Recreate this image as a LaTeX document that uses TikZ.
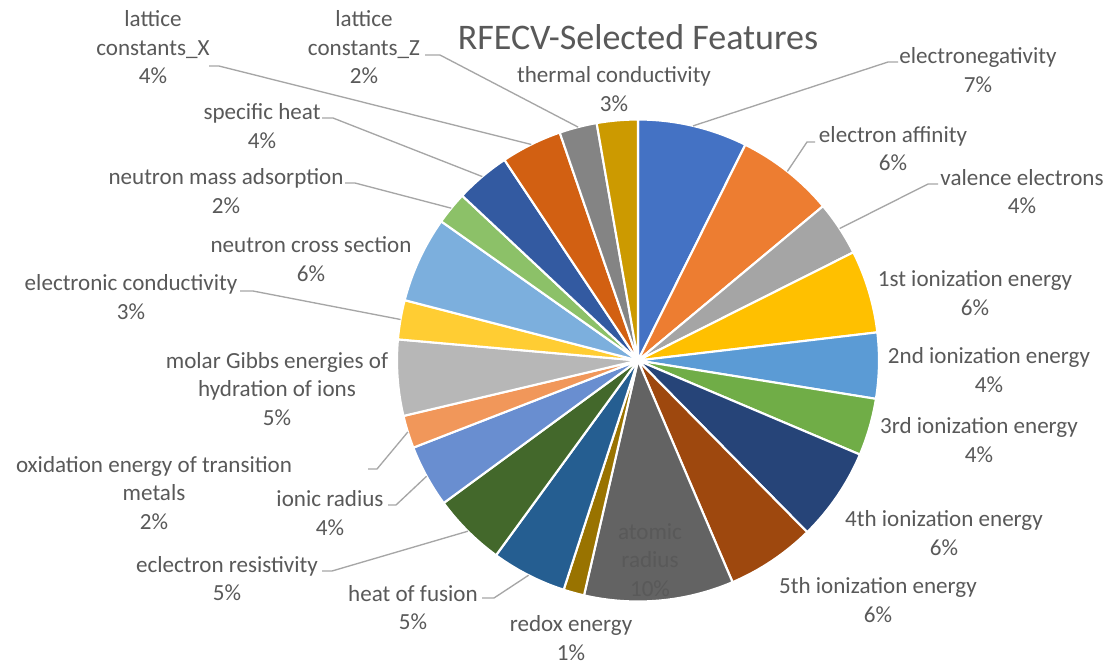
\documentclass[tikz,border=0pt]{standalone}
\usepackage{fontspec}
\setmainfont{Carlito}
\definecolor{txt}{HTML}{595959}
\definecolor{leadgray}{HTML}{A6A6A6}
\definecolor{p1}{HTML}{4472C4}
\definecolor{p2}{HTML}{ED7D31}
\definecolor{p3}{HTML}{A5A5A5}
\definecolor{p4}{HTML}{FFC000}
\definecolor{p5}{HTML}{5B9BD5}
\definecolor{p6}{HTML}{70AD47}
\definecolor{p7}{HTML}{264478}
\definecolor{p8}{HTML}{9E480E}
\definecolor{p9}{HTML}{636363}
\definecolor{p10}{HTML}{997300}
\definecolor{p11}{HTML}{255E91}
\definecolor{p12}{HTML}{43682B}
\definecolor{p13}{HTML}{698ED0}
\definecolor{p14}{HTML}{F1975A}
\definecolor{p15}{HTML}{B7B7B7}
\definecolor{p16}{HTML}{FFCD33}
\definecolor{p17}{HTML}{7CAFDD}
\definecolor{p18}{HTML}{8CC168}
\definecolor{p19}{HTML}{335AA1}
\definecolor{p20}{HTML}{D26012}
\definecolor{p21}{HTML}{848484}
\definecolor{p22}{HTML}{CC9A00}
\begin{document}
\begin{tikzpicture}[x=0.75pt,y=-0.75pt,
  lab/.style={text=txt, font=\fontsize{17.3}{21.4}\selectfont, align=center, inner sep=0pt},
  ttl/.style={text=txt, font=\fontsize{27}{32}\selectfont, inner sep=0pt},
  lead/.style={draw=leadgray, line width=1pt, line join=round},
  wedge/.style={draw=white, line width=1.6pt, line join=round}]
\useasboundingbox (0,0) rectangle (1108,661);
\fill[white] (0,0) rectangle (1108,661);

% pie slices, clockwise from twelve o'clock
\begin{scope}[shift={(638,360.5)}, yscale=-1]
  \foreach \a/\b/\c in {90/63.55/p1, 63.55/39.83/p2, 39.83/26.67/p3, 26.67/6.71/p4,
      6.71/-9.16/p5, -9.16/-22.97/p6, -22.97/-45.42/p7, -45.42/-66.9/p8,
      -66.9/-102.95/p9, -102.95/-107.97/p10, -107.97/-126.09/p11, -126.09/-143.74/p12,
      -143.74/-158.8/p13, -158.8/-166.7/p14, -166.7/-185.03/p15, -185.03/-194.5/p16,
      -194.5/-215.26/p17, -215.26/-223.15/p18, -223.15/-236.35/p19, -236.35/-251.05/p20,
      -251.05/-260.12/p21, -260.12/-270/p22} {
    \path[wedge, fill=\c] (0,0) -- (\a:241) arc[start angle=\a, end angle=\b, radius=241] -- cycle;
  }
  % leader attachment points on the rim
  \coordinate (k-elneg) at (76.8:241);
  \coordinate (k-eaff)  at (51.7:241);
  \coordinate (k-val)   at (33.2:241);
  \coordinate (k-latz)  at (104.4:241);
  \coordinate (k-latx)  at (116.3:241);
  \coordinate (k-sh)    at (130.25:241);
  \coordinate (k-nma)   at (140.8:241);
  \coordinate (k-ec)    at (170.2:241);
  \coordinate (k-ox)    at (-162.75:241);
  \coordinate (k-ion)   at (-151.3:241);
  \coordinate (k-res)   at (-134.9:241);
  \coordinate (k-heat)  at (-117:241);
\end{scope}

% title
\node[ttl] (title) at (638,37) {RFECV-Selected Features};

% data labels
\node[lab] (l-latx)  at (153,47.4)  {lattice\\constants\_X\\4\%};
\node[lab] (l-latz)  at (364,47.4)  {lattice\\constants\_Z\\2\%};
\node[lab] (l-therm) at (614,88.9)  {thermal conductivity\\3\%};
\node[lab] (l-elneg) at (978,69.9)  {electronegativity\\7\%};
\node[lab] (l-eaff)  at (893,148.4) {electron affinity\\6\%};
\node[lab] (l-val)   at (1022,191.4){valence electrons\\4\%};
\node[lab] (l-ie1)   at (975,292.9) {1st ionization energy\\6\%};
\node[lab] (l-ie2)   at (989,369.9) {2nd ionization energy\\4\%};
\node[lab] (l-ie3)   at (979,439.9) {3rd ionization energy\\4\%};
\node[lab] (l-ie4)   at (944,532.9) {4th ionization energy\\6\%};
\node[lab] (l-ie5)   at (878,599.9) {5th ionization energy\\6\%};
\node[lab] (l-atom)  at (650,559.9) {atomic\\radius\\10\%};
\node[lab] (l-redox) at (571,638.0) {redox energy\\1\%};
\node[lab] (l-heat)  at (413,607.4) {heat of fusion\\5\%};
\node[lab] (l-res)   at (227,578.4) {eclectron resistivity\\5\%};
\node[lab] (l-ion)   at (330,512.9) {ionic radius\\4\%};
\node[lab] (l-ox)    at (154,492.9) {oxidation energy of transition\\metals\\2\%};
\node[lab] (l-molar) at (277,388.9) {molar Gibbs energies of\\hydration of ions\\5\%};
\node[lab] (l-ec)    at (131,296.9) {electronic conductivity\\3\%};
\node[lab] (l-ncs)   at (311,258.9) {neutron cross section\\6\%};
\node[lab] (l-nma)   at (226,190.9) {neutron mass adsorption\\2\%};
\node[lab] (l-sh)    at (262,125.9) {specific heat\\4\%};

% leader line ends next to the labels
\coordinate (t-elneg) at (898,62);  \coordinate (b-elneg) at (888,62);
\coordinate (t-eaff)  at (815,142); \coordinate (b-eaff)  at (807,142);
\coordinate (t-val)   at (938,184); \coordinate (b-val)   at (928,184);
\coordinate (t-latz)  at (425,55);  \coordinate (b-latz)  at (440,55);
\coordinate (t-latx)  at (209,66);  \coordinate (b-latx)  at (219,66);
\coordinate (t-sh)    at (322,118); \coordinate (b-sh)    at (333,118);
\coordinate (t-nma)   at (345,183); \coordinate (b-nma)   at (355,183);
\coordinate (t-ec)    at (240,291); \coordinate (b-ec)    at (253,291);
\coordinate (t-ox)    at (368,469); \coordinate (b-ox)    at (377,469);
\coordinate (t-ion)   at (388,505); \coordinate (b-ion)   at (396,505);
\coordinate (t-res)   at (322,571); \coordinate (b-res)   at (332,571);
\coordinate (t-heat)  at (482,598); \coordinate (b-heat)  at (494,598);

\foreach \n in {elneg,eaff,val,latz,latx,sh,nma,ec,ox,ion,res,heat}
  \draw[lead] (k-\n) -- (b-\n) -- (t-\n);
\end{tikzpicture}
\end{document}
